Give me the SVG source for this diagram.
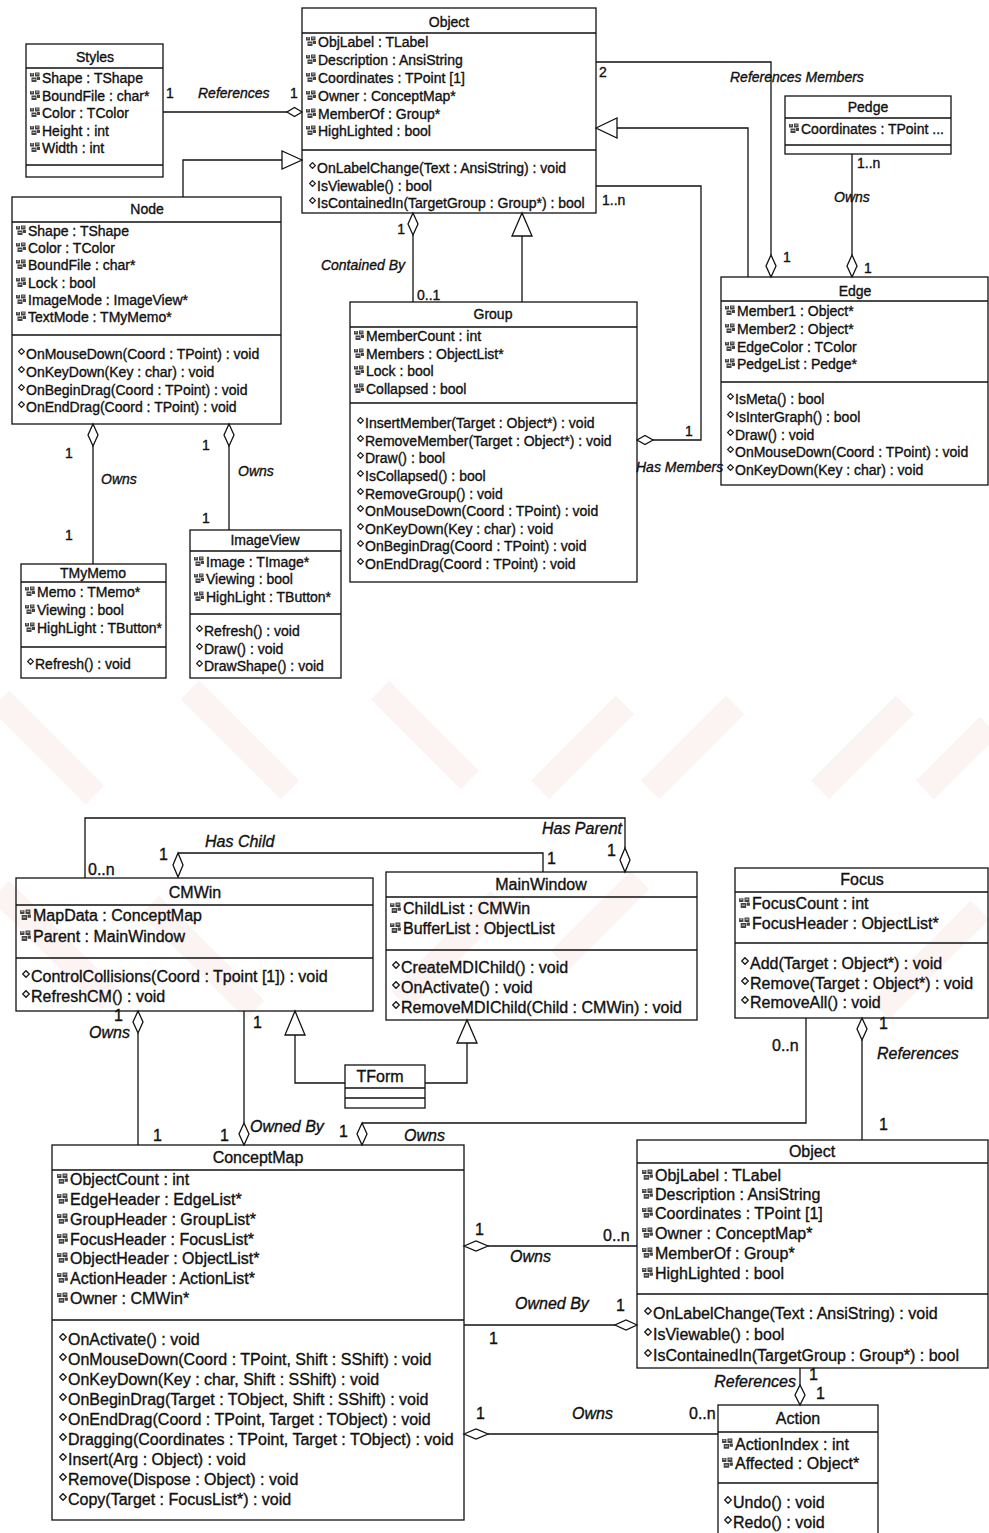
<svg xmlns="http://www.w3.org/2000/svg" xmlns:xlink="http://www.w3.org/1999/xlink" width="989" height="1533" viewBox="0 0 989 1533">
<style>
.bx{fill:none;stroke:#111;stroke-width:1.3}
.sp{stroke:#111;stroke-width:1.3}
.ln{fill:none;stroke:#111;stroke-width:1.3}
.dm{fill:#fff;stroke:#111;stroke-width:1.3}
.t{font-family:"Liberation Sans",Arial,sans-serif;font-size:14px;fill:#111;stroke:#111;stroke-width:0.35}
.T{font-family:"Liberation Sans",Arial,sans-serif;font-size:16px;fill:#111;stroke:#111;stroke-width:0.35}
.c{text-anchor:middle}
.e{text-anchor:end}
.i{font-style:italic}
.wm{fill:none;stroke:#f3c9c9;stroke-width:26;opacity:0.22}
</style>
<defs>
<symbol id="a" viewBox="0 0 12 11"><path d="M1 1h4v3.5h-4z M6 0.5h4.5v4h-4.5z M2.5 5.5h5v4.5h-5z M8 5h3v3h-3z" fill="#444"/><path d="M2 2h2M7 2h2.5M3.5 7.5h3" stroke="#ddd" stroke-width="0.8"/></symbol>
<symbol id="m" viewBox="0 0 7 7"><path d="M3.5 0.6L6.4 3.5L3.5 6.4L0.6 3.5Z" fill="#fff" stroke="#222" stroke-width="1.3"/></symbol>
</defs>
<rect width="989" height="1533" fill="#fff"/>
<g id="watermark">
<path class="wm" d="M0 700L95 795M190 690L290 790M380 690L470 780M540 790L625 705M650 790L735 705M820 790L905 705M925 790L989 726M0 890L110 1000M150 905L255 1010M400 1000L500 900M560 960L640 880M880 1010L980 910"/>
</g>

<g id="connectors">
<path class="ln" d="M163 112H287"/>
<path class="dm" d="M302 112L294.5 107.5L287 112L294.5 116.5Z"/>
<text class="t" x="166" y="98">1</text>
<text class="t i" x="198" y="98">References</text>
<text class="t" x="290" y="98">1</text>
<path class="ln" d="M183 197V160H282"/>
<path class="dm" d="M302 160L282 151L282 169Z"/>
<path class="ln" d="M413 235V302"/>
<path class="dm" d="M413 213L408 224L413 235L418 224Z"/>
<text class="t e" x="405" y="234">1</text>
<text class="t i e" x="405" y="270">Contained By</text>
<text class="t" x="417" y="300">0..1</text>
<path class="ln" d="M522 302V236"/>
<path class="dm" d="M522 213L512 236L532 236Z"/>
<path class="ln" d="M596 62H771V255"/>
<path class="dm" d="M771 277L766 266L771 255L776 266Z"/>
<text class="t" x="599" y="77">2</text>
<text class="t i" x="730" y="82">References Members</text>
<text class="t" x="783" y="262">1</text>
<path class="ln" d="M596 186H701V440H653"/>
<path class="dm" d="M637 440L645 435.5L653 440L645 444.5Z"/>
<text class="t" x="602" y="205">1..n</text>
<text class="t" x="685" y="436">1</text>
<text class="t i" x="636" y="472">Has Members</text>
<path class="ln" d="M748 277V128H617"/>
<path class="dm" d="M596 128L617 118L617 138Z"/>
<path class="ln" d="M852 154V255"/>
<path class="dm" d="M852 277L847 266L852 255L857 266Z"/>
<text class="t" x="857" y="168">1..n</text>
<text class="t i" x="834" y="202">Owns</text>
<text class="t" x="864" y="273">1</text>
<path class="ln" d="M93 446V564"/>
<path class="dm" d="M93 424L88 435L93 446L98 435Z"/>
<text class="t" x="65" y="458">1</text>
<text class="t i" x="101" y="484">Owns</text>
<text class="t" x="65" y="540">1</text>
<path class="ln" d="M229 446V530"/>
<path class="dm" d="M229 424L224 435L229 446L234 435Z"/>
<text class="t" x="202" y="450">1</text>
<text class="t i" x="238" y="476">Owns</text>
<text class="t" x="202" y="523">1</text>

<path class="ln" d="M85 878V818H625V848"/>
<path class="dm" d="M625 872L620 860L625 848L630 860Z"/>
<text class="T i e" x="622" y="834">Has Parent</text>
<text class="T" x="607" y="856">1</text>
<text class="T" x="88" y="875">0..n</text>
<path class="ln" d="M178 853H543V872"/>
<path class="dm" d="M178 877L173 865L178 853L183 865Z"/>
<text class="T" x="159" y="860">1</text>
<text class="T" x="547" y="864">1</text>
<text class="T i" x="205" y="847">Has Child</text>
<path class="ln" d="M345 1083H295V1035"/>
<path class="dm" d="M295 1011L285 1035L305 1035Z"/>
<path class="ln" d="M425 1083H467V1043"/>
<path class="dm" d="M467 1020L457 1043L477 1043Z"/>
<path class="ln" d="M138 1033V1145"/>
<path class="dm" d="M138 1011L133 1022L138 1033L143 1022Z"/>
<text class="T" x="114" y="1021">1</text>
<text class="T i" x="89" y="1038">Owns</text>
<text class="T" x="153" y="1141">1</text>
<path class="ln" d="M244 1011V1123"/>
<path class="dm" d="M244 1145L239 1134L244 1123L249 1134Z"/>
<text class="T" x="253" y="1028">1</text>
<text class="T" x="220" y="1141">1</text>
<text class="T i" x="250" y="1132">Owned By</text>
<path class="ln" d="M362 1123H806V1018"/>
<path class="dm" d="M362 1145L357 1134L362 1123L367 1134Z"/>
<text class="T" x="339" y="1137">1</text>
<text class="T i" x="404" y="1141">Owns</text>
<text class="T" x="772" y="1051">0..n</text>
<path class="ln" d="M862 1040V1140"/>
<path class="dm" d="M862 1018L857 1029L862 1040L867 1029Z"/>
<text class="T" x="879" y="1029">1</text>
<text class="T i" x="877" y="1059">References</text>
<text class="T" x="879" y="1130">1</text>
<path class="ln" d="M488 1246H637"/>
<path class="dm" d="M464 1246L476 1241L488 1246L476 1251Z"/>
<text class="T" x="475" y="1235">1</text>
<text class="T" x="603" y="1241">0..n</text>
<text class="T i" x="510" y="1262">Owns</text>
<path class="ln" d="M464 1325H615"/>
<path class="dm" d="M637 1325L626 1320L615 1325L626 1330Z"/>
<text class="T i" x="515" y="1309">Owned By</text>
<text class="T" x="616" y="1311">1</text>
<text class="T" x="489" y="1344">1</text>
<path class="ln" d="M488 1434H718"/>
<path class="dm" d="M464 1434L476 1429L488 1434L476 1439Z"/>
<text class="T" x="476" y="1419">1</text>
<text class="T i" x="572" y="1419">Owns</text>
<text class="T" x="689" y="1419">0..n</text>
<path class="ln" d="M800 1368V1385"/>
<path class="dm" d="M800 1405L795 1395L800 1385L805 1395Z"/>
<text class="T i e" x="796" y="1387">References</text>
<text class="T" x="809" y="1380">1</text>
<text class="T" x="816" y="1399">1</text>
</g>

<g id="Styles">
<rect class="bx" x="26" y="44" width="137" height="133"/>
<path class="sp" d="M26 68H163M26 165H163"/>
<text class="t c" x="95" y="62">Styles</text>
<use href="#a" x="29" y="72" width="12" height="11"/><text class="t" x="42" y="83">Shape : TShape</text>
<use href="#a" x="29" y="90" width="12" height="11"/><text class="t" x="42" y="101">BoundFile : char*</text>
<use href="#a" x="29" y="107" width="12" height="11"/><text class="t" x="42" y="118">Color : TColor</text>
<use href="#a" x="29" y="125" width="12" height="11"/><text class="t" x="42" y="136">Height : int</text>
<use href="#a" x="29" y="142" width="12" height="11"/><text class="t" x="42" y="153">Width : int</text>
</g>

<g id="ObjectTop">
<rect class="bx" x="302" y="8" width="294" height="205"/>
<path class="sp" d="M302 33H596M302 150H596"/>
<text class="t c" x="449" y="27">Object</text>
<use href="#a" x="305" y="36" width="12" height="11"/><text class="t" x="318" y="47">ObjLabel : TLabel</text>
<use href="#a" x="305" y="54" width="12" height="11"/><text class="t" x="318" y="65">Description : AnsiString</text>
<use href="#a" x="305" y="72" width="12" height="11"/><text class="t" x="318" y="83">Coordinates : TPoint [1]</text>
<use href="#a" x="305" y="90" width="12" height="11"/><text class="t" x="318" y="101">Owner : ConceptMap*</text>
<use href="#a" x="305" y="108" width="12" height="11"/><text class="t" x="318" y="119">MemberOf : Group*</text>
<use href="#a" x="305" y="125" width="12" height="11"/><text class="t" x="318" y="136">HighLighted : bool</text>
<use href="#m" x="309" y="162" width="7" height="7"/><text class="t" x="317" y="173">OnLabelChange(Text : AnsiString) : void</text>
<use href="#m" x="309" y="180" width="7" height="7"/><text class="t" x="317" y="191">IsViewable() : bool</text>
<use href="#m" x="309" y="197" width="7" height="7"/><text class="t" x="317" y="208">IsContainedIn(TargetGroup : Group*) : bool</text>
</g>

<g id="Pedge">
<rect class="bx" x="785" y="96" width="166" height="58"/>
<path class="sp" d="M785 118H951M785 145H951"/>
<text class="t c" x="868" y="112">Pedge</text>
<use href="#a" x="788" y="123" width="12" height="11"/><text class="t" x="801" y="134">Coordinates : TPoint ...</text>
</g>

<g id="Node">
<rect class="bx" x="12" y="197" width="269" height="227"/>
<path class="sp" d="M12 222H281M12 335H281"/>
<text class="t c" x="147" y="214">Node</text>
<use href="#a" x="15" y="225" width="12" height="11"/><text class="t" x="28" y="236">Shape : TShape</text>
<use href="#a" x="15" y="242" width="12" height="11"/><text class="t" x="28" y="253">Color : TColor</text>
<use href="#a" x="15" y="259" width="12" height="11"/><text class="t" x="28" y="270">BoundFile : char*</text>
<use href="#a" x="15" y="277" width="12" height="11"/><text class="t" x="28" y="288">Lock : bool</text>
<use href="#a" x="15" y="294" width="12" height="11"/><text class="t" x="28" y="305">ImageMode : ImageView*</text>
<use href="#a" x="15" y="311" width="12" height="11"/><text class="t" x="28" y="322">TextMode : TMyMemo*</text>
<use href="#m" x="18" y="348" width="7" height="7"/><text class="t" x="26" y="359">OnMouseDown(Coord : TPoint) : void</text>
<use href="#m" x="18" y="366" width="7" height="7"/><text class="t" x="26" y="377">OnKeyDown(Key : char) : void</text>
<use href="#m" x="18" y="384" width="7" height="7"/><text class="t" x="26" y="395">OnBeginDrag(Coord : TPoint) : void</text>
<use href="#m" x="18" y="401" width="7" height="7"/><text class="t" x="26" y="412">OnEndDrag(Coord : TPoint) : void</text>
</g>

<g id="Group">
<rect class="bx" x="350" y="302" width="287" height="280"/>
<path class="sp" d="M350 327H637M350 403H637"/>
<text class="t c" x="493" y="319">Group</text>
<use href="#a" x="353" y="330" width="12" height="11"/><text class="t" x="366" y="341">MemberCount : int</text>
<use href="#a" x="353" y="348" width="12" height="11"/><text class="t" x="366" y="359">Members : ObjectList*</text>
<use href="#a" x="353" y="365" width="12" height="11"/><text class="t" x="366" y="376">Lock : bool</text>
<use href="#a" x="353" y="383" width="12" height="11"/><text class="t" x="366" y="394">Collapsed : bool</text>
<use href="#m" x="357" y="417" width="7" height="7"/><text class="t" x="365" y="428">InsertMember(Target : Object*) : void</text>
<use href="#m" x="357" y="435" width="7" height="7"/><text class="t" x="365" y="446">RemoveMember(Target : Object*) : void</text>
<use href="#m" x="357" y="452" width="7" height="7"/><text class="t" x="365" y="463">Draw() : bool</text>
<use href="#m" x="357" y="470" width="7" height="7"/><text class="t" x="365" y="481">IsCollapsed() : bool</text>
<use href="#m" x="357" y="488" width="7" height="7"/><text class="t" x="365" y="499">RemoveGroup() : void</text>
<use href="#m" x="357" y="505" width="7" height="7"/><text class="t" x="365" y="516">OnMouseDown(Coord : TPoint) : void</text>
<use href="#m" x="357" y="523" width="7" height="7"/><text class="t" x="365" y="534">OnKeyDown(Key : char) : void</text>
<use href="#m" x="357" y="540" width="7" height="7"/><text class="t" x="365" y="551">OnBeginDrag(Coord : TPoint) : void</text>
<use href="#m" x="357" y="558" width="7" height="7"/><text class="t" x="365" y="569">OnEndDrag(Coord : TPoint) : void</text>
</g>

<g id="Edge">
<rect class="bx" x="721" y="277" width="267" height="208"/>
<path class="sp" d="M721 301H988M721 382H988"/>
<text class="t c" x="855" y="296">Edge</text>
<use href="#a" x="724" y="305" width="12" height="11"/><text class="t" x="737" y="316">Member1 : Object*</text>
<use href="#a" x="724" y="323" width="12" height="11"/><text class="t" x="737" y="334">Member2 : Object*</text>
<use href="#a" x="724" y="341" width="12" height="11"/><text class="t" x="737" y="352">EdgeColor : TColor</text>
<use href="#a" x="724" y="358" width="12" height="11"/><text class="t" x="737" y="369">PedgeList : Pedge*</text>
<use href="#m" x="727" y="393" width="7" height="7"/><text class="t" x="735" y="404">IsMeta() : bool</text>
<use href="#m" x="727" y="411" width="7" height="7"/><text class="t" x="735" y="422">IsInterGraph() : bool</text>
<use href="#m" x="727" y="429" width="7" height="7"/><text class="t" x="735" y="440">Draw() : void</text>
<use href="#m" x="727" y="446" width="7" height="7"/><text class="t" x="735" y="457">OnMouseDown(Coord : TPoint) : void</text>
<use href="#m" x="727" y="464" width="7" height="7"/><text class="t" x="735" y="475">OnKeyDown(Key : char) : void</text>
</g>

<g id="TMyMemo">
<rect class="bx" x="21" y="564" width="145" height="114"/>
<path class="sp" d="M21 582H166M21 647H166"/>
<text class="t c" x="93" y="578">TMyMemo</text>
<use href="#a" x="24" y="586" width="12" height="11"/><text class="t" x="37" y="597">Memo : TMemo*</text>
<use href="#a" x="24" y="604" width="12" height="11"/><text class="t" x="37" y="615">Viewing : bool</text>
<use href="#a" x="24" y="622" width="12" height="11"/><text class="t" x="37" y="633">HighLight : TButton*</text>
<use href="#m" x="27" y="658" width="7" height="7"/><text class="t" x="35" y="669">Refresh() : void</text>
</g>

<g id="ImageView">
<rect class="bx" x="190" y="530" width="151" height="148"/>
<path class="sp" d="M190 551H341M190 614H341"/>
<text class="t c" x="265" y="545">ImageView</text>
<use href="#a" x="193" y="556" width="12" height="11"/><text class="t" x="206" y="567">Image : TImage*</text>
<use href="#a" x="193" y="573" width="12" height="11"/><text class="t" x="206" y="584">Viewing : bool</text>
<use href="#a" x="193" y="591" width="12" height="11"/><text class="t" x="206" y="602">HighLight : TButton*</text>
<use href="#m" x="196" y="625" width="7" height="7"/><text class="t" x="204" y="636">Refresh() : void</text>
<use href="#m" x="196" y="643" width="7" height="7"/><text class="t" x="204" y="654">Draw() : void</text>
<use href="#m" x="196" y="660" width="7" height="7"/><text class="t" x="204" y="671">DrawShape() : void</text>
</g>

<g id="CMWin">
<rect class="bx" x="16" y="878" width="357" height="133"/>
<path class="sp" d="M16 905H373M16 958H373"/>
<text class="T c" x="195" y="898">CMWin</text>
<use href="#a" x="19" y="909" width="13" height="12"/><text class="T" x="33" y="921">MapData : ConceptMap</text>
<use href="#a" x="19" y="930" width="13" height="12"/><text class="T" x="33" y="942">Parent : MainWindow</text>
<use href="#m" x="22" y="970" width="8" height="8"/><text class="T" x="31" y="982">ControlCollisions(Coord : Tpoint [1]) : void</text>
<use href="#m" x="22" y="990" width="8" height="8"/><text class="T" x="31" y="1002">RefreshCM() : void</text>
</g>

<g id="MainWindow">
<rect class="bx" x="386" y="872" width="311" height="148"/>
<path class="sp" d="M386 897H697M386 950H697"/>
<text class="T c" x="541" y="890">MainWindow</text>
<use href="#a" x="389" y="902" width="13" height="12"/><text class="T" x="403" y="914">ChildList : CMWin</text>
<use href="#a" x="389" y="922" width="13" height="12"/><text class="T" x="403" y="934">BufferList : ObjectList</text>
<use href="#m" x="392" y="961" width="8" height="8"/><text class="T" x="401" y="973">CreateMDIChild() : void</text>
<use href="#m" x="392" y="981" width="8" height="8"/><text class="T" x="401" y="993">OnActivate() : void</text>
<use href="#m" x="392" y="1001" width="8" height="8"/><text class="T" x="401" y="1013">RemoveMDIChild(Child : CMWin) : void</text>
</g>

<g id="Focus">
<rect class="bx" x="735" y="868" width="253" height="150"/>
<path class="sp" d="M735 892H988M735 943H988"/>
<text class="T c" x="862" y="885">Focus</text>
<use href="#a" x="738" y="897" width="13" height="12"/><text class="T" x="752" y="909">FocusCount : int</text>
<use href="#a" x="738" y="917" width="13" height="12"/><text class="T" x="752" y="929">FocusHeader : ObjectList*</text>
<use href="#m" x="741" y="957" width="8" height="8"/><text class="T" x="750" y="969">Add(Target : Object*) : void</text>
<use href="#m" x="741" y="977" width="8" height="8"/><text class="T" x="750" y="989">Remove(Target : Object*) : void</text>
<use href="#m" x="741" y="996" width="8" height="8"/><text class="T" x="750" y="1008">RemoveAll() : void</text>
</g>

<g id="TForm">
<rect class="bx" x="345" y="1065" width="80" height="43"/>
<path class="sp" d="M345 1088H425M345 1098H425"/>
<text class="T c" x="380" y="1082">TForm</text>
</g>

<g id="ConceptMap">
<rect class="bx" x="52" y="1145" width="412" height="375"/>
<path class="sp" d="M52 1170H464M52 1320H464"/>
<text class="T c" x="258" y="1163">ConceptMap</text>
<use href="#a" x="56" y="1173" width="13" height="12"/><text class="T" x="70" y="1185">ObjectCount : int</text>
<use href="#a" x="56" y="1193" width="13" height="12"/><text class="T" x="70" y="1205">EdgeHeader : EdgeList*</text>
<use href="#a" x="56" y="1213" width="13" height="12"/><text class="T" x="70" y="1225">GroupHeader : GroupList*</text>
<use href="#a" x="56" y="1233" width="13" height="12"/><text class="T" x="70" y="1245">FocusHeader : FocusList*</text>
<use href="#a" x="56" y="1252" width="13" height="12"/><text class="T" x="70" y="1264">ObjectHeader : ObjectList*</text>
<use href="#a" x="56" y="1272" width="13" height="12"/><text class="T" x="70" y="1284">ActionHeader : ActionList*</text>
<use href="#a" x="56" y="1292" width="13" height="12"/><text class="T" x="70" y="1304">Owner : CMWin*</text>
<use href="#m" x="59" y="1333" width="8" height="8"/><text class="T" x="68" y="1345">OnActivate() : void</text>
<use href="#m" x="59" y="1353" width="8" height="8"/><text class="T" x="68" y="1365">OnMouseDown(Coord : TPoint, Shift : SShift) : void</text>
<use href="#m" x="59" y="1373" width="8" height="8"/><text class="T" x="68" y="1385">OnKeyDown(Key : char, Shift : SShift) : void</text>
<use href="#m" x="59" y="1393" width="8" height="8"/><text class="T" x="68" y="1405">OnBeginDrag(Target : TObject, Shift : SShift) : void</text>
<use href="#m" x="59" y="1413" width="8" height="8"/><text class="T" x="68" y="1425">OnEndDrag(Coord : TPoint, Target : TObject) : void</text>
<use href="#m" x="59" y="1433" width="8" height="8"/><text class="T" x="68" y="1445">Dragging(Coordinates : TPoint, Target : TObject) : void</text>
<use href="#m" x="59" y="1453" width="8" height="8"/><text class="T" x="68" y="1465">Insert(Arg : Object) : void</text>
<use href="#m" x="59" y="1473" width="8" height="8"/><text class="T" x="68" y="1485">Remove(Dispose : Object) : void</text>
<use href="#m" x="59" y="1493" width="8" height="8"/><text class="T" x="68" y="1505">Copy(Target : FocusList*) : void</text>
</g>

<g id="ObjectBottom">
<rect class="bx" x="637" y="1140" width="351" height="228"/>
<path class="sp" d="M637 1163H988M637 1294H988"/>
<text class="T c" x="812" y="1157">Object</text>
<use href="#a" x="641" y="1169" width="13" height="12"/><text class="T" x="655" y="1181">ObjLabel : TLabel</text>
<use href="#a" x="641" y="1188" width="13" height="12"/><text class="T" x="655" y="1200">Description : AnsiString</text>
<use href="#a" x="641" y="1207" width="13" height="12"/><text class="T" x="655" y="1219">Coordinates : TPoint [1]</text>
<use href="#a" x="641" y="1227" width="13" height="12"/><text class="T" x="655" y="1239">Owner : ConceptMap*</text>
<use href="#a" x="641" y="1247" width="13" height="12"/><text class="T" x="655" y="1259">MemberOf : Group*</text>
<use href="#a" x="641" y="1267" width="13" height="12"/><text class="T" x="655" y="1279">HighLighted : bool</text>
<use href="#m" x="644" y="1307" width="8" height="8"/><text class="T" x="653" y="1319">OnLabelChange(Text : AnsiString) : void</text>
<use href="#m" x="644" y="1328" width="8" height="8"/><text class="T" x="653" y="1340">IsViewable() : bool</text>
<use href="#m" x="644" y="1349" width="8" height="8"/><text class="T" x="653" y="1361">IsContainedIn(TargetGroup : Group*) : bool</text>
</g>

<g id="Action">
<rect class="bx" x="718" y="1405" width="160" height="140"/>
<path class="sp" d="M718 1432H878M718 1483H878"/>
<text class="T c" x="798" y="1424">Action</text>
<use href="#a" x="721" y="1438" width="13" height="12"/><text class="T" x="735" y="1450">ActionIndex : int</text>
<use href="#a" x="721" y="1457" width="13" height="12"/><text class="T" x="735" y="1469">Affected : Object*</text>
<use href="#m" x="724" y="1496" width="8" height="8"/><text class="T" x="733" y="1508">Undo() : void</text>
<use href="#m" x="724" y="1516" width="8" height="8"/><text class="T" x="733" y="1528">Redo() : void</text>
</g>
</svg>
